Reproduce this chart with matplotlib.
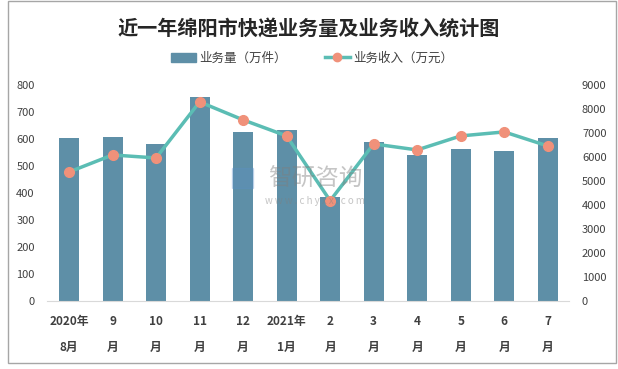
import matplotlib.pyplot as plt
from matplotlib.patches import Rectangle
from matplotlib.lines import Line2D

plt.rcParams['font.family'] = ['Noto Sans CJK SC', 'DejaVu Sans']

# datos del gráfico
meses = ['2020年\n8月', '9\n月', '10\n月', '11\n月', '12\n月', '2021年\n1月',
         '2\n月', '3\n月', '4\n月', '5\n月', '6\n月', '7\n月']
volumen = [602, 608, 580, 754, 625, 632, 384, 590, 542, 564, 557, 605]
ingresos = [5375, 6083, 5958, 8292, 7542, 6875, 4180, 6542, 6292, 6875, 7042, 6458]

color_barra = '#5E8FA7'
color_linea = '#5BBDB4'
color_punto = '#F0917A'
color_texto = '#404040'

fig = plt.figure(figsize=(6.18, 3.69), dpi=100)

# marco gris alrededor de la figura
fig.patches.append(Rectangle((0.013, 0.015), 0.983, 0.982, transform=fig.transFigure,
                             fill=False, edgecolor='#A6A6A6', linewidth=1.0))

ax = fig.add_axes([0.0765, 0.184, 0.845, 0.586])
x = range(len(meses))
ax.bar(x, volumen, width=0.46, color=color_barra, zorder=2)
ax.set_ylim(0, 800)
ax.set_yticks(range(0, 801, 100))
ax.set_xlim(-0.5, len(meses) - 0.5)
ax.set_xticks(list(x))
ax.set_xticklabels(meses, fontsize=8.5, fontweight='bold', color=color_texto,
                   linespacing=2.3)
ax.tick_params(axis='x', length=0, pad=10)
ax.tick_params(axis='y', length=0, labelsize=8, labelcolor=color_texto, pad=9)
for s in ['top', 'right', 'left']:
    ax.spines[s].set_visible(False)
ax.spines['bottom'].set_color('#D9D9D9')

ax2 = ax.twinx()
ax2.plot(x, ingresos, color=color_linea, linewidth=2.5, marker='o',
         markersize=7, markerfacecolor=color_punto, markeredgecolor=color_punto,
         zorder=3)
ax2.set_ylim(0, 9000)
ax2.set_yticks(range(0, 9001, 1000))
ax2.tick_params(axis='y', length=0, labelsize=8, labelcolor=color_texto, pad=9)
for s in ['top', 'right', 'left', 'bottom']:
    ax2.spines[s].set_visible(False)

# marca de agua
fig.text(0.51, 0.515, '智研咨询', fontsize=17, color='#7F7F7F', alpha=0.45,
         ha='center', va='center')
fig.text(0.51, 0.455, 'w w w . c h y x x . c o m', fontsize=7, color='#7F7F7F',
         alpha=0.45, ha='center', va='center')
fig.patches.append(Rectangle((0.375, 0.49), 0.035, 0.055, transform=fig.transFigure,
                             color='#5B8FC8', alpha=0.3))

fig.text(0.5, 0.922, '近一年绵阳市快递业务量及业务收入统计图', fontsize=14.5,
         fontweight='bold', color='#262626', ha='center', va='center')

handles = [Rectangle((0, 0), 1, 1, color=color_barra),
           Line2D([], [], color=color_linea, linewidth=2.5, marker='o', markersize=6,
                  markerfacecolor=color_punto, markeredgecolor=color_punto)]
fig.legend(handles, ['业务量（万件）', '业务收入（万元）'], loc='center',
           bbox_to_anchor=(0.505, 0.842), ncol=2, frameon=False, fontsize=9,
           handlelength=2.0, handletextpad=0.3, columnspacing=3.0,
           labelcolor=color_texto)

fig.savefig('out.png', dpi=100)
